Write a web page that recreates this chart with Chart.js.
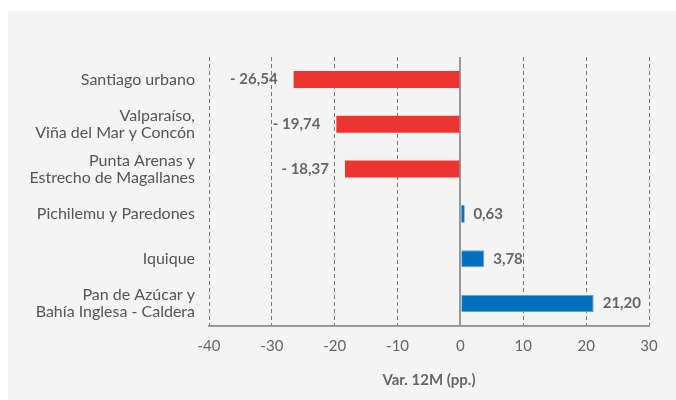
<!DOCTYPE html>
<html>
<head>
<meta charset="utf-8">
<script src="https://cdn.jsdelivr.net/npm/chart.js@4"></script>
<style>
  html, body { margin: 0; padding: 0; background: #fff; }
  #wrap { width: 676px; height: 400px; position: relative; }
</style>
</head>
<body>
<div id="wrap"><canvas id="myChart" width="676" height="400"></canvas></div>
<script>
// datos
var categorias = [
    'Santiago urbano',
    ['Valparaíso,', 'Viña del Mar y Concón'],
    ['Punta Arenas y', 'Estrecho de Magallanes'],
    'Pichilemu y Paredones',
    'Iquique',
    ['Pan de Azúcar y', 'Bahía Inglesa - Caldera']
];
var variacion = [-26.54, -19.74, -18.37, 0.63, 3.78, 21.20];
var ticksX = [-40, -30, -20, -10, 0, 10, 20, 30];
var tituloX = 'Var. 12M (pp.)';

var ROJO = '#ee3431';
var AZUL = '#0071bd';

function fmt(v) {
    var s = Math.abs(v).toFixed(2).replace('.', ',');
    return v < 0 ? '- ' + s : s;
}

// fondo gris
var fondo = {
    id: 'fondo',
    beforeDraw: function (chart) {
        var c = chart.ctx;
        c.save();
        c.fillStyle = '#ffffff';
        c.fillRect(0, 0, chart.width, chart.height);
        c.fillStyle = '#f4f4f4';
        c.fillRect(8, 11, chart.width - 8, chart.height - 11);
        c.restore();
    }
};

// etiquetas de valores
var etiquetas = {
    id: 'etiquetas',
    afterDatasetsDraw: function (chart) {
        var c = chart.ctx;
        var meta = chart.getDatasetMeta(0);
        c.save();
        c.font = 'bold 15px Lato';
        c.fillStyle = '#666666';
        c.textBaseline = 'middle';
        meta.data.forEach(function (bar, i) {
            var v = variacion[i];
            if (v < 0) {
                c.textAlign = 'right';
                c.fillText(fmt(v), bar.x - 16, bar.y);
            } else {
                c.textAlign = 'left';
                c.fillText(fmt(v), bar.x + 9, bar.y);
            }
        });
        c.restore();
    }
};

const ctx = document.getElementById('myChart').getContext('2d');
const myChart = new Chart(ctx, {
    type: 'bar',
    data: {
        labels: categorias,
        datasets: [{
            data: variacion,
            backgroundColor: variacion.map(function (v) { return v < 0 ? ROJO : AZUL; }),
            borderColor: variacion.map(function (v) { return v < 0 ? ROJO : '#5aa3dc'; }),
            borderWidth: variacion.map(function (v) { return v > 2 ? 1 : 0; }),
            borderSkipped: 'start',
            barPercentage: 0.95,
            categoryPercentage: 0.4
        }]
    },
    plugins: [fondo, etiquetas],
    options: {
        indexAxis: 'y',
        responsive: false,
        animation: false,
        layout: { padding: { top: 57, right: 27, left: 0, bottom: 0 } },
        plugins: {
            legend: { display: false },
            tooltip: { enabled: false }
        },
        scales: {
            x: {
                min: -40,
                max: 30,
                afterBuildTicks: function (scale) {
                    scale.ticks = ticksX.map(function (v) { return { value: v }; });
                },
                afterFit: function (scale) { scale.height = 74; },
                grid: {
                    drawTicks: false,
                    color: function (c) { return c.tick && c.tick.value === 0 ? '#999999' : '#777777'; },
                    lineWidth: function (c) { return c.tick && c.tick.value === 0 ? 2 : 1; }
                },
                border: {
                    display: true,
                    color: '#999999',
                    width: 2,
                    dash: function (c) { return c.tick && c.tick.value !== 0 ? [4, 3] : []; }
                },
                ticks: {
                    padding: 11,
                    color: '#666666',
                    font: { family: 'Lato', size: 15 }
                },
                title: {
                    display: true,
                    text: tituloX,
                    color: '#666666',
                    font: { family: 'Lato', size: 15, weight: 'bold' },
                    padding: { top: 0, bottom: 11 }
                }
            },
            y: {
                afterFit: function (scale) { scale.width = 209; },
                grid: { display: false, drawTicks: false },
                border: { display: false },
                ticks: {
                    padding: 14,
                    color: '#555555',
                    font: { family: 'Lato', size: 16, lineHeight: 1.05 }
                }
            }
        }
    }
});
</script>
</body>
</html>
